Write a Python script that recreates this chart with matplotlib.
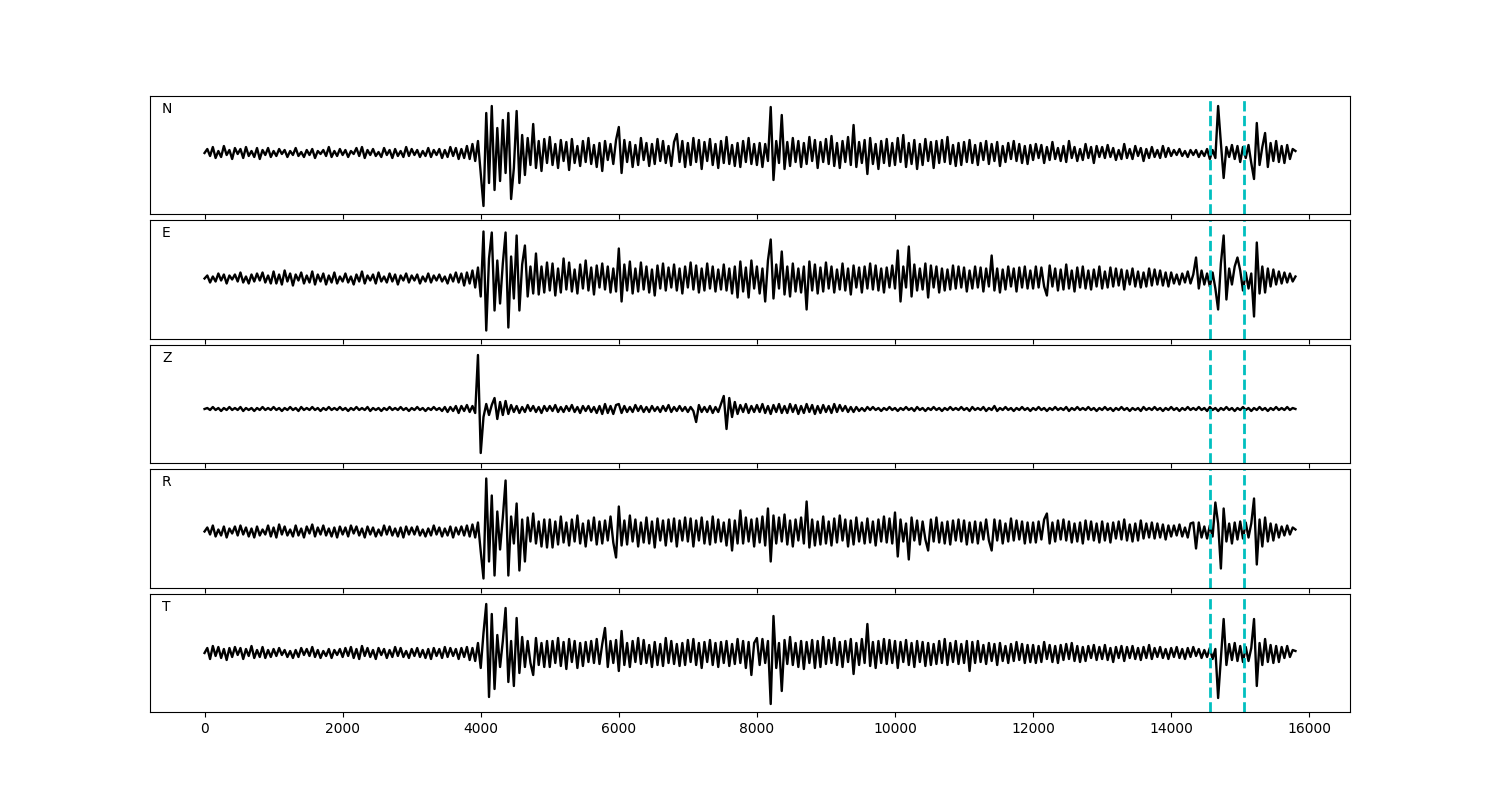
import numpy as np
import matplotlib
matplotlib.use('Agg')
import matplotlib.pyplot as plt

# sample spacing between the read-off values
step = 40

# component names
components = ['N', 'E', 'Z', 'R', 'T']

# picked phase times (samples)
picks = [14565, 15060]

# trace values, one row per 1000 samples
trace_N = [
    0, 4, -3, 6, -5, 2, -4, 7, -2, 3, -6, 5, -1, 4, -5, 6, -3, 2, -4, 5, -6, 3, -2, 5, -4,
    2, -3, 4, -1, 3, -4, 2, -2, 5, -3, 1, -4, 3, -2, 4, -5, 2, -1, 3, -3, 6, -4, 2, -3, 4,
    -2, 3, -4, 2, -1, 5, -3, 6, -5, 3, -2, 4, -3, 1, -4, 5, -2, 3, -5, 4, -3, 2, -4, 6, -3,
    4, -2, 3, -4, 2, -3, 5, -4, 3, -2, 4, -5, 3, -4, 6, -3, 5, -6, 4, -5, 7, -6, 9, -8, 12,
    -20, -53, 40, -30, 47, -37, 25, -28, 33, -20, 40, -46, -15, 42, -30, 18, -22, 15, -12, 29, -15, 12, -18, 14, -10,
    16, -12, 9, -15, 13, -8, 11, -17, 14, -10, 7, -13, 12, -9, 15, -11, 8, -14, 10, -18, 12, -7, 9, -11, 13,
    26, -20, 13, -9, 11, -14, 8, -12, 15, -7, 10, -13, 9, -11, 14, -8, 12, -10, 7, -13, 11, 19, -9, 12, -14,
    10, -12, 15, -9, 13, -16, 11, -8, 14, -12, 9, -15, 12, -10, 16, -11, 8, -13, 10, -14, 12, -9, 15, -11, 9,
    -12, 10, -14, 9, -8, 46, -27, 12, -10, 38, -16, 11, -13, 15, -9, 12, -14, 10, -11, 16, -8, 13, -15, 11, -9,
    14, -11, 17, -13, 10, -15, 12, -9, 16, -12, 28, -14, 11, -10, 13, -21, 15, -11, 9, -16, 12, -10, 14, -13, 10,
    -12, 15, -9, 18, -14, 10, -11, 13, -16, 9, -12, 14, -8, 11, -15, 12, -10, 13, -9, 16, -11, 8, -13, 10, -12,
    11, -9, 13, -10, 8, -12, 10, -7, 12, -11, 9, -8, 11, -13, 7, -9, 10, -6, 12, -8, 9, -10, 7, -11, 8,
    -7, 9, -5, 8, -10, 6, -7, 11, -6, 5, -8, 7, -9, 12, -5, 6, -8, 4, -7, 9, -5, 6, -10, 7, -4,
    6, -5, 8, -4, 5, -7, 3, -6, 9, -5, 4, -6, 7, -3, 5, -8, 4, -5, 6, -4, 3, -5, 7, -4, 5,
    -3, 3, -2, 4, -3, 2, -4, 3, -2, 3, -4, 2, -3, 4, -6, 3, -5, 47, 10, -25, 6, -4, 8, -6, 7,
    -9, 6, -5, 8, -10, -26, 30, -12, 6, 20, -14, 10, -8, 12, -9, 7, -10, 8, -6, 4, 2,
]

trace_E = [
    0, 3, -4, 2, -3, 5, -2, 4, -5, 3, -1, 4, -3, 6, -4, 2, -5, 4, -3, 5, -2, 6, -4, 3, -5,
    7, -5, 4, -6, 8, -3, 5, -7, 4, -2, 6, -5, 3, -4, 7, -6, 4, -3, 5, -6, 3, -4, 6, -5, 2,
    -3, 5, -4, 2, -6, 4, -3, 7, -5, 3, -2, 4, -5, 6, -3, 2, -4, 5, -3, 4, -6, 3, -2, 5, -4,
    3, -2, 4, -5, 2, -3, 5, -4, 3, -2, 4, -3, 2, -5, 4, -3, 6, -4, 5, -7, 6, -5, 8, -9, 11,
    -18, 47, -52, 20, 46, -32, 18, -25, 15, 46, -49, 22, -20, 43, -32, 14, 33, -18, 12, -15, 25, -16, 12, -14, 16,
    -12, 15, -17, 10, -14, 20, -11, 16, -13, 9, -15, 14, -10, 18, -12, 11, -16, 13, -9, 15, -11, 12, -14, 10, -13,
    30, -23, 14, -12, 17, -15, 10, -13, 16, -11, 12, -14, 9, -17, 13, -10, 15, -12, 11, -9, 14, -12, 10, -15, 12,
    -9, 16, -11, 13, -14, 10, -12, 15, -10, 12, -13, 9, -11, 14, -12, 10, -15, 12, -19, 17, -13, 11, -19, 18, -10,
    12, -15, 10, -23, 18, 39, -20, 14, -10, 27, -16, 12, -18, 15, -13, 10, -14, 12, -31, 17, -12, 14, -15, 11, -13,
    16, -10, 12, -14, 9, -11, 15, -12, 10, -16, 13, -9, 11, -14, 12, -10, 15, -11, 13, -12, 10, -14, 11, -9, 13,
    -10, 28, -23, 12, -9, 32, -18, 14, -12, 10, -11, 15, -19, 13, -9, 12, -14, 10, -12, 9, -11, 13, -10, 12, -9,
    11, -13, 8, -10, 12, -9, 11, -13, 10, -8, 23, -12, 10, -14, 9, -11, 12, -8, 10, -13, 11, -9, 12, -10, 8,
    -10, 12, -9, 11, -8, -17, 13, -8, 10, -12, 9, -11, 14, -10, 8, -13, 11, -9, 12, -10, 8, -11, 9, -8, 12,
    -10, 7, -9, 11, -8, 10, -7, 9, -11, 8, -6, 10, -8, 7, -9, 6, -8, 10, -7, 9, -6, 8, -7, 6, -8,
    6, -5, 4, -6, 5, -4, 7, -5, 4, 21, -10, 8, -6, 5, -8, 6, -10, -31, 15, 43, -21, 10, -6, 12, 21,
    8, -12, 6, -10, 5, -38, 36, -15, 12, -14, 10, -8, 9, -6, 7, -5, 6, -4, 5, -3, 2,
]

trace_Z = [
    0, 1, -1, 2, -1, 1, -2, 1, -1, 2, -1, 1, -1, 2, -2, 1, -1, 1, -2, 1, -1, 2, -1, 1, -1,
    2, -1, 1, -2, 1, -1, 2, -1, 1, -2, 2, -1, 1, -1, 2, -1, 1, -2, 1, -1, 2, -1, 1, -1, 2,
    -1, 1, -2, 1, -1, 2, -1, 1, -1, 2, -2, 1, -1, 1, -2, 1, -1, 2, -1, 1, -1, 2, -1, 1, -2,
    1, -1, 2, -1, 1, -2, 1, -1, 2, -1, 1, -2, 2, -3, 2, -2, 3, -4, 3, -2, 4, -3, 3, -4, 54,
    -44, -8, 5, -6, 4, 11, -10, 7, -6, 8, -5, 4, -3, 3, -4, 2, -3, 4, -2, 3, -3, 2, -4, 3, -2,
    3, -2, 4, -3, 2, -3, 3, -2, 4, -3, 2, -4, 3, -2, 3, -3, 2, -4, 3, -5, 5, -4, 3, -5, 4,
    5, -4, 3, -3, 2, -3, 4, -2, 3, -3, 2, -3, 3, -2, 2, -3, 3, -2, 4, -3, 2, -2, 3, -2, 2,
    -3, 2, -2, -13, 4, -3, 2, -3, 3, -4, 2, -3, 5, 13, -20, 11, -8, 7, -5, 4, -3, 5, -4, 3, -3,
    4, -3, 5, -4, 3, -5, 4, -3, 5, -4, 3, -4, 5, -3, 4, -5, 3, -4, 5, -3, 4, -5, 3, -4, 4,
    -3, 3, -4, 5, -3, 4, -2, 3, -3, 2, -3, 2, -2, 1, -2, 2, -1, 2, -1, 1, -2, 1, -1, 2, -1,
    1, -2, 1, -1, 2, -1, 1, -2, 2, -1, 1, -2, 1, -1, 2, -1, 1, -2, 1, -1, 2, -1, 1, -1, 2,
    -1, 1, -2, 2, -1, 1, -1, 2, -2, 1, -1, 3, -2, 1, -1, 2, -1, 1, -2, 1, -1, 2, -1, 1, -2,
    1, -1, 2, -1, 1, -2, 1, -1, 2, -1, 1, -1, 2, -2, 1, -1, 2, -1, 1, -1, 2, -1, 1, -2, 1,
    -1, 2, -1, 1, -2, 1, -1, 2, -1, 1, -2, 1, -1, 1, -2, 2, -1, 1, -1, 2, -1, 1, -2, 1, -1,
    2, -1, 1, -2, 1, -1, 2, -1, 1, -1, 2, -1, 1, -2, 2, -1, 1, -2, 1, -1, 2, -1, 1, -2, 1,
    -1, 2, -1, 1, -2, 1, -1, 2, -1, 1, -2, 1, -1, 2, -1, 1, -1, 2, -1, 1, 0,
]

trace_R = [
    0, 4, -3, 6, -5, 2, -4, 5, -6, 3, -2, 5, -4, 6, -3, 4, -5, 3, -6, 5, -4, 2, -3, 6, -5,
    4, -6, 7, -3, 5, -4, 2, -5, 6, -4, 3, -6, 5, -2, 7, -5, 4, -3, 6, -4, 3, -5, 4, -6, 5,
    -3, 4, -5, 6, -2, 5, -4, 3, -6, 5, -3, 4, -5, 2, -4, 6, -3, 5, -4, 3, -5, 4, -6, 5, -3,
    4, -3, 5, -4, 2, -5, 3, -4, 6, -3, 4, -5, 3, -4, 5, -6, 4, -3, 5, -4, 6, -5, 7, -6, 9,
    -20, -47, 53, -30, 36, -44, 20, -18, 14, 51, -44, 15, -12, 28, -39, 12, -30, 14, -10, 18, -12, 10, -15, 12, -16,
    12, -16, 10, -13, 15, -11, 9, -14, 12, -10, 16, -12, 8, -15, 11, -9, 14, -13, 10, -12, 11, -9, 15, -11, -26,
    25, -14, 11, -13, 16, -10, 12, -15, 9, -11, 14, -12, 10, -16, 13, -9, 11, -14, 12, -10, 13, -15, 11, -9, 14,
    -10, 13, -15, 11, -9, 14, -12, 10, -13, 15, -11, 12, -10, 9, -14, 12, -19, 11, -12, 21, -12, 14, -10, 12, -15,
    13, -11, 15, -14, 23, -30, 16, -12, 14, -10, 17, -13, 11, -15, 12, -9, 14, -12, 30, -16, 12, -14, 10, -13, 15,
    -12, 10, -14, 13, -11, 16, -9, 12, -15, 11, -13, 14, -10, 9, -12, 13, -11, 10, -14, 12, -10, 15, -11, 13, -12,
    19, -25, 12, -10, 8, -28, 14, -9, 11, -13, 10, -8, -19, 12, -10, 14, -11, 9, -12, 10, -13, 11, -9, 12, -10,
    11, -13, 9, -11, 10, -12, 9, -8, 12, -9, -19, 12, -9, 11, -12, 8, -10, 13, -9, 11, -8, 10, -12, 9, -11,
    9, -11, 10, -8, 12, 18, -12, 9, -10, 11, -8, 12, -9, 10, -11, 8, -10, 9, -12, 11, -8, 10, -9, 8, -11,
    10, -9, 8, -11, 9, -7, 10, -8, 12, -9, 7, -10, 8, -9, 11, -7, 8, -6, 9, -7, 8, -6, 7, -8, 6,
    -5, 6, -4, 7, -5, 4, -6, 8, 9, -17, 9, -6, 5, -7, 6, -5, 29, 8, -37, 23, -10, 8, -12, 9, -8,
    10, -7, 9, -6, 8, 33, -33, 12, -15, 14, -10, 8, -9, 7, -6, 5, -4, 6, -3, 4, 2,
]

trace_T = [
    0, 5, -6, 7, -3, 6, -5, 4, -7, 5, -4, 6, -2, 5, -6, 4, -3, 7, -5, 3, -4, 6, -5, 3, -4,
    4, -3, 5, -2, 3, -4, 2, -5, 3, -4, 5, -2, 4, -3, 6, -4, 3, -5, 2, -3, 4, -5, 3, -2, 4,
    -4, 5, -3, 6, -5, 4, -6, 7, -3, 5, -4, 3, -6, 5, -2, 4, -5, 3, -4, 6, -3, 5, -4, 2, -5,
    4, -3, 5, -4, 3, -5, 4, -6, 5, -3, 4, -5, 6, -4, 5, -3, 4, -6, 5, -4, 6, -7, 5, -8, 10,
    -15, 20, 49, -44, 39, -36, 18, -14, 12, 45, -29, 12, -33, 35, -20, 16, -14, 12, -10, -22, 15, -12, 10, -14, 12,
    -14, 12, -10, 15, -13, 11, -16, 14, -9, 12, -15, 10, -13, 11, -9, 12, -10, 14, -11, 9, 25, -14, 12, -10, 13,
    -18, 22, -12, 10, -14, 12, -9, 15, -11, 13, -10, 8, -14, 11, -12, 9, -13, 15, -10, 12, -11, 9, -13, 10, -12,
    13, -9, 14, -12, 10, -15, 11, -9, 13, -12, 10, -14, 11, -10, 12, -13, 9, -11, 14, -10, 12, -15, 11, -22, 10,
    15, -12, 14, -10, 12, -51, 37, -15, 10, -38, 13, -11, 16, -12, 10, -14, 12, -16, 11, -10, 13, -15, 12, -14, 16,
    -11, 13, -10, 15, -12, 11, -14, 12, -9, 14, -21, 10, -12, 14, -10, 29, -13, 11, -15, 12, -10, 14, -11, 13, -10,
    12, -15, 11, -9, 13, -12, 10, -14, 12, -9, 11, -13, 10, -12, 9, -11, 12, -10, 14, -12, 10, -9, 12, -11, 9,
    -10, 12, -18, 11, -10, 12, -9, 8, -11, 10, -8, 9, -12, 10, -8, 7, -10, 9, -8, 11, -7, 9, -10, 8, -9,
    8, -10, 7, -9, 11, -6, 8, -9, 7, -10, 8, -7, 9, -6, 10, -8, 7, -9, 6, -8, 7, -5, 8, -7, 6,
    -6, 8, -7, 5, -9, 6, -5, 7, -8, 6, -5, 7, -6, 5, -7, 6, -5, 8, -6, 5, -4, 6, -5, 4, -6,
    5, -4, 6, -5, 4, -6, 5, -4, 6, -3, 4, -5, 3, -4, 5, -6, 4, -45, -5, 34, -12, 9, -7, 10, -8,
    7, -9, 6, -8, 5, 34, -33, 10, -12, 14, -9, 8, -10, 7, -9, 6, -5, 7, -4, 3, 2,
]

traces = [trace_N, trace_E, trace_Z, trace_R, trace_T]

# vertical window of each panel around its zero line
y_windows = [(-61, 57), (-60, 58), (-54, 64), (-56, 62), (-59, 59)]

fig, axes = plt.subplots(5, 1, figsize=(15, 8), sharex=True)
fig.subplots_adjust(left=0.1, right=0.9, top=0.88, bottom=0.11, hspace=0.055)

for ax, name, tr, yw in zip(axes, components, traces, y_windows):
    t = np.arange(len(tr)) * step
    ax.plot(t, tr, color='k', lw=1.7)
    for p in picks:
        ax.axvline(p, color='c', ls='--', lw=2)
    ax.set_ylim(yw)
    ax.set_yticks([])
    ax.text(0.01, 0.89, name, transform=ax.transAxes, va='center', fontsize=10)

axes[-1].set_xticks(np.arange(0, 16001, 2000))

plt.savefig('out.png', dpi=100)
